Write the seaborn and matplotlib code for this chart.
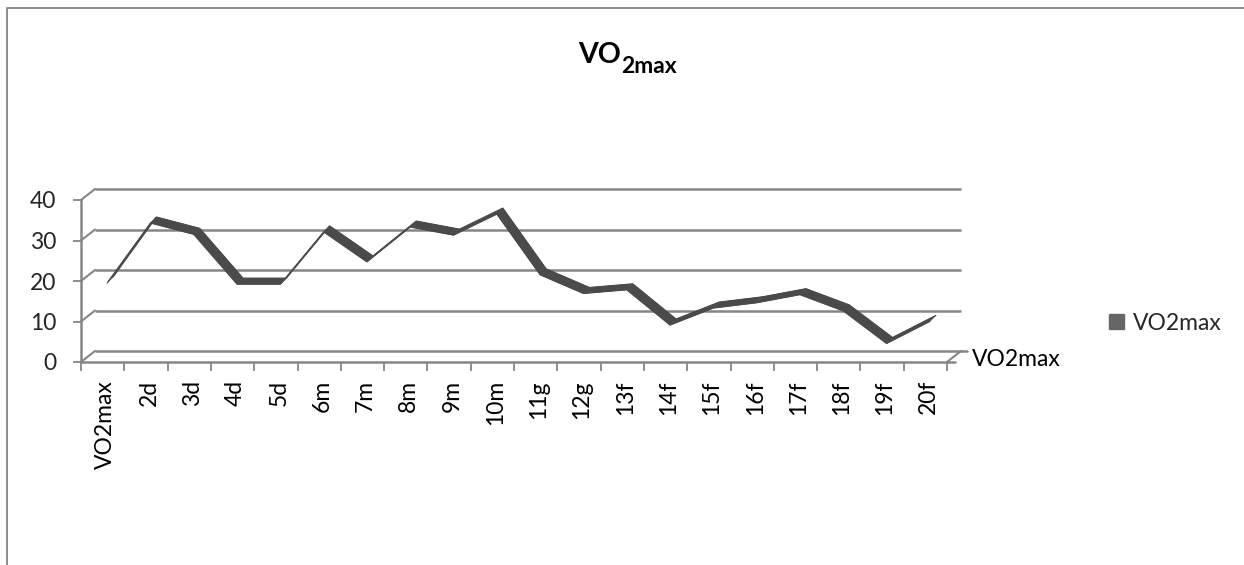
import matplotlib
matplotlib.use('Agg')
import matplotlib.pyplot as plt
from matplotlib.collections import PolyCollection
from matplotlib.lines import Line2D
from matplotlib.patches import Patch
from matplotlib.transforms import ScaledTranslation
import numpy as np
import pandas as pd
import seaborn as sns

categories = ['VO2max', '2d', '3d', '4d', '5d', '6m', '7m', '8m', '9m', '10m',
              '11g', '12g', '13f', '14f', '15f', '16f', '17f', '18f', '19f', '20f']
vo2max = [18.9, 33.7, 30.9, 18.6, 18.6, 31.5, 24.1, 32.7, 30.7, 35.9,
          20.9, 16.3, 17.2, 8.5, 12.7, 14.0, 16.0, 12.0, 3.95, 9.4]
y_ticks = [0, 10, 20, 30, 40]

GRID = '#868686'
RIBBON = '#4a4a4a'
W, H = 1244, 565

sns.set_style('white')
plt.rcParams['font.family'] = ['Lato', 'DejaVu Sans']

fig = plt.figure(figsize=(W / 100, H / 100), dpi=100)
ax = fig.add_axes([81 / W, 1 - 362 / H, 866 / W, 162 / H])
df = pd.DataFrame({'who': categories, 'VO2max': vo2max})


def shift(dx, dy):
    # offset in pixels, for the fake 3D depth
    return ax.transData + ScaledTranslation(dx / 100, dy / 100, fig.dpi_scale_trans)


# back wall and its diagonals
wall = shift(14, 11)
ax.hlines(y_ticks, -0.5, 19.5, color=GRID, lw=1.8, transform=wall, zorder=1, clip_on=False)
for v in y_ticks:
    ax.add_line(Line2D([-0.5, -0.5 + 14 / 43.3], [v, v + 11 / 4.05], color=GRID, lw=1.5, zorder=1, clip_on=False))
ax.add_line(Line2D([19.5, 19.5 + 14 / 43.3], [0, 11 / 4.05], color=GRID, lw=1.5, zorder=1, clip_on=False))
ax.add_line(Line2D([19.5, 19.5 + 8 / 43.3], [0, 0], color=GRID, lw=1.8, zorder=1, clip_on=False))
ax.add_line(Line2D([19.5, 19.5 + 6 / 43.3], [0, 0], color=GRID, lw=1.8, zorder=1,
                   transform=wall, clip_on=False))

# ribbon between a front and a back edge
sns.lineplot(data=df, x='who', y='VO2max', color=RIBBON, lw=0.8, ax=ax, zorder=3, sort=False)
front_line = ax.lines[-1]
front_line.set_transform(shift(4.5, 2.5))
front_line.set_clip_on(False)
sns.lineplot(data=df, x='who', y='VO2max', color=RIBBON, lw=0.8, ax=ax, zorder=3, sort=False)
back_line = ax.lines[-1]
back_line.set_transform(shift(10.5, 8.5))
back_line.set_clip_on(False)

xs = np.arange(len(vo2max))
ys = np.array(vo2max)
fx, fy = 4.5 / 43.3, 2.5 / 4.05
bx, by = 10.5 / 43.3, 8.5 / 4.05
quads = []
for i in range(len(xs) - 1):
    quads.append([(xs[i] + fx, ys[i] + fy), (xs[i + 1] + fx, ys[i + 1] + fy),
                  (xs[i + 1] + bx, ys[i + 1] + by), (xs[i] + bx, ys[i] + by)])
ax.add_collection(PolyCollection(quads, facecolor=RIBBON, edgecolor=RIBBON, lw=0.4, zorder=3))

ax.set_xlim(-0.5, 19.5)
ax.set_ylim(0, 40)
ax.set_xlabel('')
ax.set_ylabel('')
ax.set_yticks(y_ticks)
ax.set_xticks(xs)
ax.set_xticklabels(categories, rotation=90, fontsize=16.5, color='black')
ax.set_xticks(np.arange(-0.5, 20), minor=True)
ax.tick_params(axis='x', which='major', length=0, pad=13)
ax.tick_params(axis='x', which='minor', length=6.5, width=1.3, color=GRID, bottom=True)
ax.tick_params(axis='y', length=5.8, width=1.3, color=GRID, labelsize=16.5, pad=12, left=True)
for lab in ax.get_xticklabels():
    lab.set_transform(lab.get_transform() + ScaledTranslation(3 / 100, 0, fig.dpi_scale_trans))
sns.despine(ax=ax, top=True, right=True)
for s in ['left', 'bottom']:
    ax.spines[s].set_color(GRID)
    ax.spines[s].set_linewidth(1.8)
ax.patch.set_alpha(0)

# depth axis label, legend, title
fig.text(972 / W, 1 - 360 / H, 'VO2max', fontsize=16.5, va='center', ha='left', color='black')
fig.legend(handles=[Patch(color='#666666', label='VO2max')], loc='center left',
           bbox_to_anchor=(1109 / W, 1 - 323 / H), frameon=False, fontsize=16.5,
           handlelength=0.65, handleheight=0.65, handletextpad=0.4, borderpad=0, borderaxespad=0)
fig.text(621 / W, 1 - 63 / H, 'VO', fontsize=20.5, fontweight='bold', ha='right', va='baseline', color='black')
fig.text(621 / W, 1 - 73 / H, '2max', fontsize=16.5, fontweight='bold', ha='left', va='baseline', color='black')

# chart frame
fig.add_artist(Line2D([7 / W, 7 / W, 1], [0, 1 - 8 / H, 1 - 8 / H], color='#8c8c8c', lw=1.4))

fig.savefig('out.png', dpi=100)
